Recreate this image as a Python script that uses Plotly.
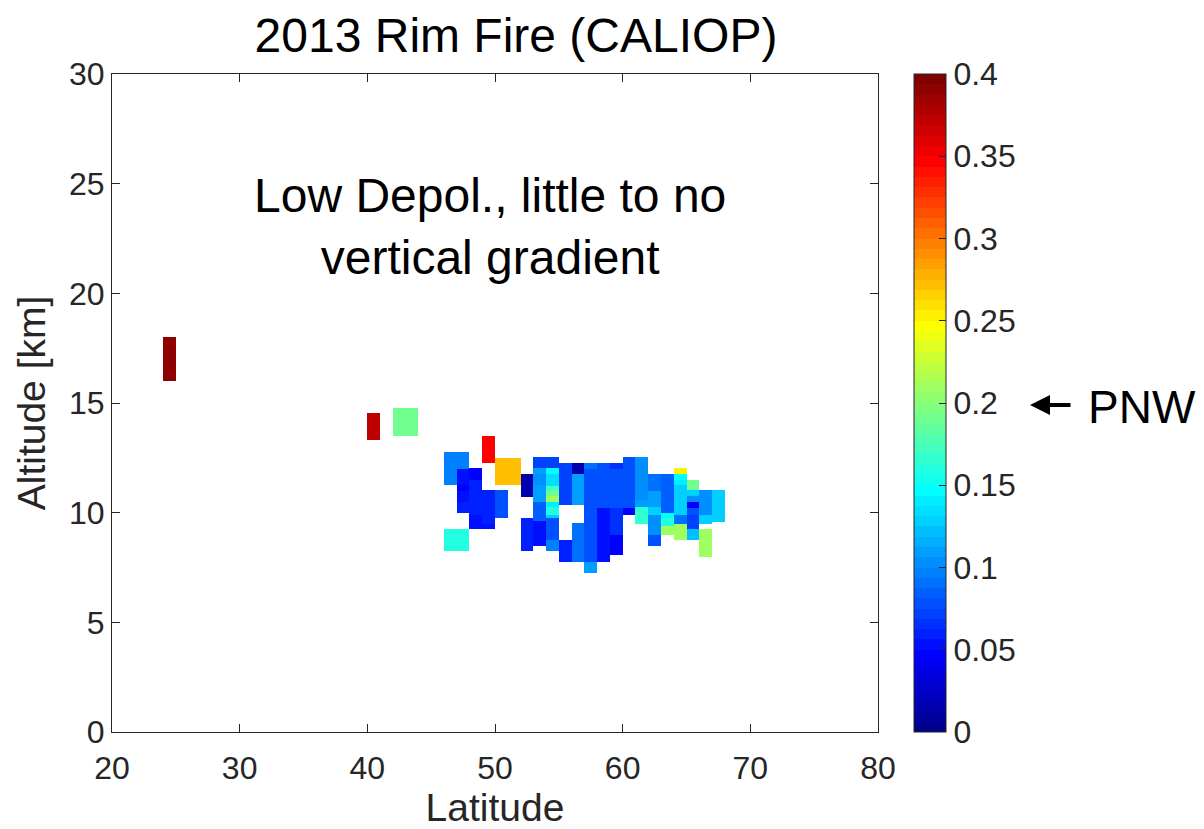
import plotly.graph_objects as go

# ---- data: gridded CALIOP depolarization cells (latitude / altitude extents) ----
lat_lo = [24, 40, 42, 49, 46, 50, 46,
          47, 47, 47, 47,
          48, 48, 48,
          49, 49,
          50,
          52, 52,
          53, 53, 53, 53, 53, 53,
          54, 54, 54, 54, 54, 54, 54, 54, 54, 54, 54,
          55, 55,
          56, 56, 56,
          57, 57, 57,
          58, 58, 58,
          59, 59, 59, 59,
          60, 60,
          61, 61, 61,
          62, 62, 62, 62, 62,
          63, 63, 63, 63,
          64, 64, 64, 64, 64, 64,
          65, 65, 65, 65, 65, 65, 65,
          66, 66, 66,
          67]
lat_hi = [25, 41, 44, 50, 48, 52, 48,
          48, 48, 48, 48,
          49, 49, 49,
          50, 50,
          51,
          53, 53,
          54, 54, 54, 54, 54, 54,
          55, 55, 55, 55, 55, 55, 55, 55, 55, 55, 55,
          56, 56,
          57, 57, 57,
          58, 58, 58,
          59, 59, 59,
          60, 60, 60, 60,
          61, 61,
          62, 62, 62,
          63, 63, 63, 63, 63,
          64, 64, 64, 64,
          65, 65, 65, 65, 65, 65,
          66, 66, 66, 66, 66, 66, 66,
          67, 67, 67,
          68]
alt_lo = [16.0, 13.3, 13.5, 12.27, 11.26, 11.26, 8.27,
          11.26, 11.0, 10.5, 10.0,
          11.5, 9.89, 9.26,
          9.5, 9.26,
          9.76,
          10.73, 8.27,
          12.04, 11.76, 11.26, 10.5, 9.6, 8.48,
          12.04, 11.76, 11.2, 11.0, 10.75, 10.5, 10.25, 9.9, 9.76, 8.75, 8.27,
          10.35, 7.76,
          11.76, 10.35, 7.76,
          12.0, 7.76, 7.25,
          10.2, 9.7, 7.76,
          12.0, 10.2, 9.0, 8.07,
          10.2, 9.9,
          10.6, 10.25, 9.5,
          11.0, 10.25, 9.9, 9.0, 8.5,
          10.0, 9.75, 9.4, 9.0,
          11.76, 11.5, 11.26, 9.9, 9.5, 8.75,
          11.03, 10.75, 10.5, 10.2, 9.9, 9.26, 8.75,
          9.9, 9.5, 8.0,
          9.57]
alt_hi = [18.0, 14.55, 14.75, 13.5, 12.77, 12.5, 9.26,
          12.0, 11.26, 11.0, 10.5,
          12.04, 11.5, 9.89,
          11.03, 9.5,
          11.03,
          11.76, 9.76,
          12.55, 12.04, 11.76, 11.26, 10.5, 9.6,
          12.55, 12.04, 11.76, 11.2, 11.0, 10.75, 10.5, 10.25, 9.9, 9.76, 8.75,
          12.27, 8.75,
          12.27, 11.76, 9.53,
          12.27, 12.0, 7.76,
          12.27, 10.2, 9.7,
          12.27, 12.0, 10.2, 9.0,
          12.55, 10.2,
          12.55, 10.6, 10.25,
          11.76, 11.0, 10.25, 9.9, 9.0,
          11.76, 10.0, 9.75, 9.4,
          12.04, 11.76, 11.5, 11.26, 9.9, 9.5,
          11.5, 11.03, 10.75, 10.5, 10.2, 9.9, 9.26,
          11.03, 9.9, 9.26,
          11.03]
depol = [0.39, 0.37, 0.19, 0.345, 0.098, 0.27, 0.162,
         0.05, 0.044, 0.05, 0.058,
         0.044, 0.058, 0.05,
         0.057, 0.05,
         0.08,
         0.017, 0.058,
         0.075, 0.11, 0.1, 0.11, 0.085, 0.052,
         0.075, 0.15, 0.137, 0.169, 0.19, 0.21, 0.14, 0.16, 0.125, 0.08, 0.097,
         0.075, 0.062,
         0.015, 0.11, 0.09,
         0.09, 0.08, 0.11,
         0.077, 0.05, 0.055,
         0.065, 0.08, 0.065, 0.045,
         0.08, 0.045,
         0.1, 0.11, 0.165,
         0.092, 0.11, 0.125, 0.1, 0.08,
         0.087, 0.15, 0.16, 0.21,
         0.255, 0.145, 0.14, 0.125, 0.09, 0.21,
         0.19, 0.125, 0.1, 0.045, 0.08, 0.07, 0.12,
         0.1, 0.125, 0.21,
         0.125]

cbar_ticks = [0, 0.05, 0.1, 0.15, 0.2, 0.25, 0.3, 0.35, 0.4]
cbar_text = ["0", "0.05", "0.1", "0.15", "0.2", "0.25", "0.3", "0.35", "0.4"]
x_ticks = [20, 30, 40, 50, 60, 70, 80]
y_ticks = [0, 5, 10, 15, 20, 25, 30]


# ---- MATLAB jet(64), discrete ----
def jet_row(i):
    if i <= 8:
        r, g, b = 0, 0, 0.5 + i / 16
    elif i <= 24:
        r, g, b = 0, (i - 8) / 16, 1
    elif i <= 40:
        r, g, b = (i - 24) / 16, 1, 1 - (i - 24) / 16
    elif i <= 56:
        r, g, b = 1, 1 - (i - 40) / 16, 0
    else:
        r, g, b = 1 - (i - 56) / 16, 0, 0
    return "rgb(%d,%d,%d)" % (round(r * 255), round(g * 255), round(b * 255))


jet = []
for k in range(64):
    c = jet_row(k + 1)
    jet.append([k / 64, c])
    jet.append([(k + 1) / 64, c])

AX = "#262626"
FONT = "Liberation Sans, Arial, Helvetica, sans-serif"

fig = go.Figure()
fig.add_trace(go.Bar(
    x=[(a + b) / 2 for a, b in zip(lat_lo, lat_hi)],
    width=[b - a for a, b in zip(lat_lo, lat_hi)],
    base=alt_lo,
    y=[h - l for l, h in zip(alt_lo, alt_hi)],
    marker=dict(
        color=depol, colorscale=jet, cmin=0, cmax=0.4,
        line=dict(width=0),
        showscale=True,
        colorbar=dict(
            x=(914 - 112) / 766, xanchor="left", xref="paper",
            y=0.5, yanchor="middle", len=1.0, lenmode="fraction",
            thickness=32, xpad=0, ypad=0,
            outlinecolor=AX, outlinewidth=1,
            ticks="inside", ticklen=7, tickcolor=AX, tickwidth=1,
            tickvals=cbar_ticks, ticktext=cbar_text,
            tickfont=dict(size=32, color=AX, family=FONT),
        ),
    ),
    hoverinfo="skip",
))

fig.update_layout(
    width=1204, height=829,
    margin=dict(l=112, r=326, t=74, b=97),
    paper_bgcolor="white", plot_bgcolor="white",
    font=dict(family=FONT, color=AX),
    barmode="overlay", bargap=0, showlegend=False,
    title=dict(text="2013 Rim Fire (CALIOP)", x=(516 - 112) / 766, xref="paper", xanchor="center",
               y=1 - 35 / 829, yref="container", yanchor="middle",
               font=dict(size=48, color="black", family=FONT)),
    xaxis=dict(range=[20, 80], tickvals=x_ticks, ticks="inside", ticklen=8,
               tickcolor=AX, tickwidth=1, showline=True, linecolor=AX, linewidth=1,
               mirror="ticks", showgrid=False, zeroline=False,
               ticklabelstandoff=8,
               tickfont=dict(size=32, color=AX),
               title=dict(text="Latitude", font=dict(size=39, color=AX), standoff=4)),
    yaxis=dict(range=[0, 30], tickvals=y_ticks, ticks="inside", ticklen=8,
               tickcolor=AX, tickwidth=1, showline=True, linecolor=AX, linewidth=1,
               mirror="ticks", showgrid=False, zeroline=False,
               tickfont=dict(size=32, color=AX),
               title=dict(text="Altitude [km]", font=dict(size=39, color=AX), standoff=11)),
    annotations=[
        dict(text="Low Depol., little to no<br>vertical gradient", x=49.6, y=23.07,
             xref="x", yref="y", showarrow=False, xanchor="center", yanchor="middle",
             font=dict(size=48, color="black", family=FONT)),
        dict(text="", x=(1030 - 112) / 766, y=(732 - 405) / 658, xref="paper", yref="paper",
             showarrow=True, ax=42, ay=0, arrowhead=2, arrowsize=1, arrowwidth=4,
             arrowcolor="black"),
        dict(text="PNW", x=(1142 - 112) / 766, y=(732 - 407) / 658, xref="paper", yref="paper",
             showarrow=False, xanchor="center", yanchor="middle",
             font=dict(size=46, color="black", family=FONT)),
    ],
)

fig.write_html("out.html")
